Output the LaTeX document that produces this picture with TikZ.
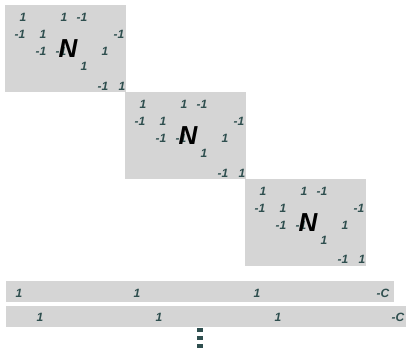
\documentclass[tikz,border=0pt]{standalone}
\usepackage{fontspec}
\setmainfont{Liberation Sans}
\definecolor{blkfill}{HTML}{D5D5D5}
\definecolor{enttext}{HTML}{2F4F4F}
\tikzset{
  blk/.style={fill=blkfill},
  ent/.style={font=\fontsize{12}{14}\selectfont\bfseries\itshape, text=enttext, inner sep=0pt},
  bign/.style={font=\fontsize{26}{30}\selectfont\bfseries\itshape, text=black, inner sep=0pt},
  dotsq/.style={fill=enttext},
}

\begin{document}
\begin{tikzpicture}[x=1pt,y=-1pt]
  \useasboundingbox (0,0) rectangle (406,348);
  % diagonal blocks
  \fill[blk] (5,5) rectangle (126,92);
  \fill[blk] (125,92) rectangle (246,179);
  \fill[blk] (245,179) rectangle (366,266);
  % block 1
  \node[ent] (a11) at (23,17) {1};
  \node[ent] (a12) at (64,17) {1};
  \node[ent] (a13) at (82,17) {-1};
  \node[ent] (a21) at (20,34) {-1};
  \node[ent] (a22) at (43,34) {1};
  \node[ent] (a23) at (119,34) {-1};
  \node[ent] (a31) at (41,51) {-1};
  \node[ent] (a32) at (61,51) {-1};
  \node[ent] (a33) at (105,51) {1};
  \node[ent] (a41) at (84,66) {1};
  \node[ent] (a51) at (103,86) {-1};
  \node[ent] (a52) at (122,86) {1};
  \node[bign] (na) at (68,49) {N};
  % block 2
  \node[ent] (b11) at (143,104) {1};
  \node[ent] (b12) at (184,104) {1};
  \node[ent] (b13) at (202,104) {-1};
  \node[ent] (b21) at (140,121) {-1};
  \node[ent] (b22) at (163,121) {1};
  \node[ent] (b23) at (239,121) {-1};
  \node[ent] (b31) at (161,138) {-1};
  \node[ent] (b32) at (181,138) {-1};
  \node[ent] (b33) at (225,138) {1};
  \node[ent] (b41) at (204,153) {1};
  \node[ent] (b51) at (223,173) {-1};
  \node[ent] (b52) at (242,173) {1};
  \node[bign] (nb) at (188,136) {N};
  % block 3
  \node[ent] (c11) at (263,191) {1};
  \node[ent] (c12) at (304,191) {1};
  \node[ent] (c13) at (322,191) {-1};
  \node[ent] (c21) at (260,208) {-1};
  \node[ent] (c22) at (283,208) {1};
  \node[ent] (c23) at (359,208) {-1};
  \node[ent] (c31) at (281,225) {-1};
  \node[ent] (c32) at (301,225) {-1};
  \node[ent] (c33) at (345,225) {1};
  \node[ent] (c41) at (324,240) {1};
  \node[ent] (c51) at (343,259) {-1};
  \node[ent] (c52) at (362,259) {1};
  \node[bign] (nc) at (308,223) {N};
  % bottom rows
  \fill[blk] (6,281) rectangle (394,302);
  \node[ent] (r11) at (19,293) {1};
  \node[ent] (r12) at (137,293) {1};
  \node[ent] (r13) at (257,293) {1};
  \node[ent] (r14) at (383,293) {-C};
  \fill[blk] (6,306) rectangle (406,327);
  \node[ent] (r21) at (40,317) {1};
  \node[ent] (r22) at (159,317) {1};
  \node[ent] (r23) at (278,317) {1};
  \node[ent] (r24) at (398,317) {-C};
  % dots
  \fill[dotsq] (197,328) rectangle (203,332);
  \fill[dotsq] (197,336) rectangle (203,340);
  \fill[dotsq] (197,344) rectangle (203,348);
\end{tikzpicture}
\end{document}
